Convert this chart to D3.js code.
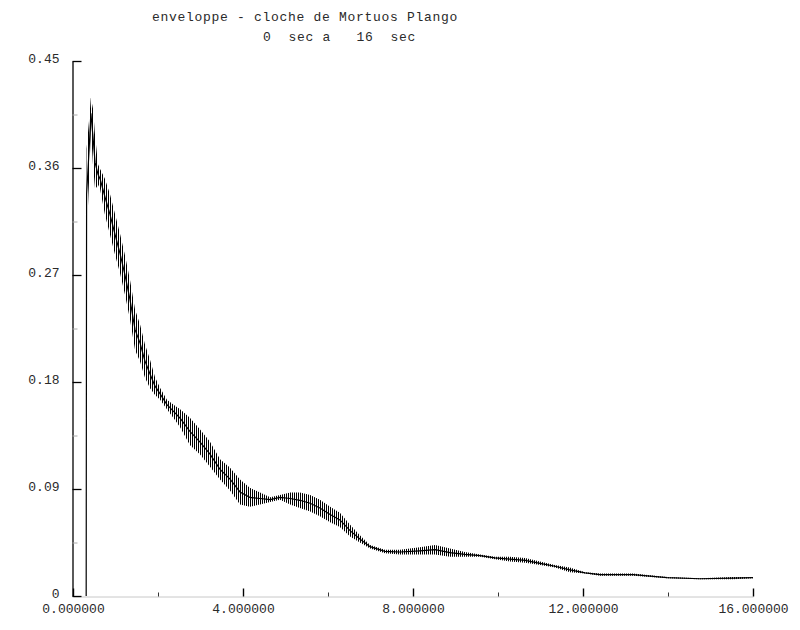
<!DOCTYPE html>
<html lang="fr">
	<head>
		<meta charset="utf-8">
		<title>D3: enveloppe</title>
		<script type="text/javascript" src="https://cdn.jsdelivr.net/npm/d3@7"></script>
		<style type="text/css">

		body {
			margin: 0;
			background: #fff;
		}

		text {
			font-family: "Liberation Mono", "DejaVu Sans Mono", monospace;
			font-size: 13px;
			fill: #2a2a2a;
		}

		.title {
			letter-spacing: 0.7px;
			white-space: pre;
		}

		</style>
	</head>
	<body>

		<script type="text/javascript">

		//Width and height
		var w = 800;
		var h = 630;

		//Envelope: time (s), top and bottom of the band
		var times = [0.31, 0.32, 0.38, 0.42, 0.47, 0.52, 0.59, 0.64, 0.75, 0.87,
			0.99, 1.11, 1.22, 1.34, 1.46, 1.58, 1.69, 1.81, 1.93, 2.05,
			2.21, 2.40, 2.52, 2.75, 2.99, 3.22, 3.46, 3.69, 3.93, 4.16,
			4.40, 4.64, 4.87, 5.11, 5.34, 5.58, 5.81, 6.05, 6.28, 6.52,
			6.75, 6.99, 7.34, 7.69, 8.16, 8.52, 8.87, 9.22, 9.58, 9.93,
			10.28, 10.64, 10.99, 11.34, 11.69, 12.05, 12.40, 13.18, 13.98, 14.75,
			15.53, 16.0];

		var upper = [0, 0.376, 0.401, 0.419, 0.410, 0.387, 0.363, 0.359, 0.351, 0.338,
			0.321, 0.304, 0.287, 0.266, 0.241, 0.228, 0.212, 0.199, 0.184, 0.175,
			0.165, 0.160, 0.157, 0.150, 0.140, 0.130, 0.115, 0.108, 0.098, 0.091,
			0.087, 0.083, 0.085, 0.087, 0.087, 0.085, 0.081, 0.075, 0.070, 0.060,
			0.051, 0.043, 0.039, 0.039, 0.041, 0.043, 0.040, 0.037, 0.035, 0.033,
			0.033, 0.032, 0.029, 0.026, 0.024, 0.020, 0.019, 0.019, 0.016, 0.015,
			0.016, 0.016];

		var lower = [0, 0.300, 0.351, 0.393, 0.363, 0.342, 0.346, 0.342, 0.321, 0.304,
			0.287, 0.271, 0.254, 0.233, 0.207, 0.197, 0.184, 0.175, 0.169, 0.165,
			0.157, 0.148, 0.142, 0.127, 0.119, 0.109, 0.098, 0.089, 0.077, 0.075,
			0.077, 0.079, 0.081, 0.077, 0.074, 0.071, 0.067, 0.062, 0.058, 0.050,
			0.045, 0.040, 0.036, 0.035, 0.035, 0.035, 0.033, 0.033, 0.033, 0.031,
			0.029, 0.028, 0.026, 0.024, 0.020, 0.019, 0.017, 0.017, 0.015, 0.014,
			0.014, 0.015];

		//Tick values and labels
		var xTicks = [0, 4, 8, 12, 16];
		var xMinorTicks = [2, 6, 10, 14];
		var xTickLabels = ["0.000000", "4.000000", "8.000000", "12.000000", "16.000000"];
		var yTicks = [0, 0.09, 0.18, 0.27, 0.36, 0.45];
		var yMinorTicks = [0.045, 0.135, 0.225, 0.315, 0.405];
		var yTickLabels = ["0", "0.09", "0.18", "0.27", "0.36", "0.45"];

		var titleLine1 = "enveloppe - cloche de Mortuos Plango";
		var titleLine2 = "0  sec a   16  sec";

		var dataset = times.map(function(t, i) {
			return { t: t, hi: upper[i], lo: lower[i] };
		});

		//Create SVG element
		var svg = d3.select("body")
					.append("svg")
					.attr("width", w)
					.attr("height", h);

		//Vertical hatching for the oscillating band
		svg.append("defs")
			.append("pattern")
			.attr("id", "hatch")
			.attr("patternUnits", "userSpaceOnUse")
			.attr("width", 2)
			.attr("height", 4)
			.append("rect")
			.attr("width", 1)
			.attr("height", 4)
			.attr("fill", "#000");

		//Create scale functions
		var xScale = d3.scaleLinear()
						.domain([0, 16])
						.range([73, 753]);

		var yScale = d3.scaleLinear()
						.domain([0, 0.45])
						.range([596, 61]);

		//Title
		svg.append("text")
			.attr("class", "title")
			.attr("x", 152)
			.attr("y", 21)
			.text(titleLine1);

		svg.append("text")
			.attr("class", "title")
			.attr("x", 263)
			.attr("y", 41)
			.text(titleLine2);

		//X axis, ticks pointing up
		var xAxis = d3.axisBottom(xScale)
						.tickValues(xTicks)
						.tickSizeInner(-8)
						.tickSizeOuter(0)
						.tickPadding(7)
						.tickFormat(function(d, i) { return xTickLabels[i]; });

		var gx = svg.append("g")
			.attr("transform", "translate(0,596.5)")
			.call(xAxis);
		gx.select(".domain").attr("stroke", "#c8c8c8");
		gx.selectAll(".tick line").attr("stroke", "#000").attr("stroke-width", 1.4);
		gx.selectAll("text").style("font-size", "13px").attr("fill", "#3a3a3a");

		svg.append("g")
			.attr("transform", "translate(0,596.5)")
			.call(d3.axisBottom(xScale)
				.tickValues(xMinorTicks)
				.tickSizeInner(-4)
				.tickSizeOuter(0)
				.tickFormat(""))
			.call(function(g) { g.select(".domain").remove(); })
			.selectAll(".tick line")
			.attr("stroke", "#333");

		//Y axis, labels on the left, ticks pointing right
		var yAxis = d3.axisLeft(yScale)
						.tickValues(yTicks)
						.tickSizeInner(-9)
						.tickSizeOuter(0)
						.tickPadding(13)
						.tickFormat(function(d, i) { return yTickLabels[i]; });

		var gy = svg.append("g")
			.attr("transform", "translate(72.5,0)")
			.call(yAxis);
		gy.select(".domain").attr("stroke", "#000").attr("stroke-width", 1.3);
		gy.selectAll(".tick line").attr("stroke", "#000").attr("stroke-width", 1.3);
		gy.selectAll("text")
			.attr("dy", "0.15em")
			.style("font-size", "13px")
			.attr("fill", "#2a2a2a");

		svg.append("g")
			.attr("transform", "translate(72.5,0)")
			.call(d3.axisLeft(yScale)
				.tickValues(yMinorTicks)
				.tickSizeInner(-5)
				.tickSizeOuter(0)
				.tickFormat(""))
			.call(function(g) { g.select(".domain").remove(); })
			.selectAll(".tick line")
			.attr("stroke", "#aaa");

		//Band between top and bottom of the envelope
		var area = d3.area()
					.x(function(d) { return xScale(d.t); })
					.y0(function(d) { return yScale(d.lo); })
					.y1(function(d) { return yScale(d.hi); });

		svg.append("path")
			.datum(dataset)
			.attr("d", area)
			.attr("fill", "url(#hatch)");

		//Middle of the envelope
		var line = d3.line()
					.x(function(d) { return xScale(d.t); })
					.y(function(d) { return yScale((d.hi + d.lo) / 2); });

		svg.append("path")
			.datum(dataset)
			.attr("d", line)
			.attr("fill", "none")
			.attr("stroke", "#000")
			.attr("stroke-width", 1.2);

		</script>
	</body>
</html>
